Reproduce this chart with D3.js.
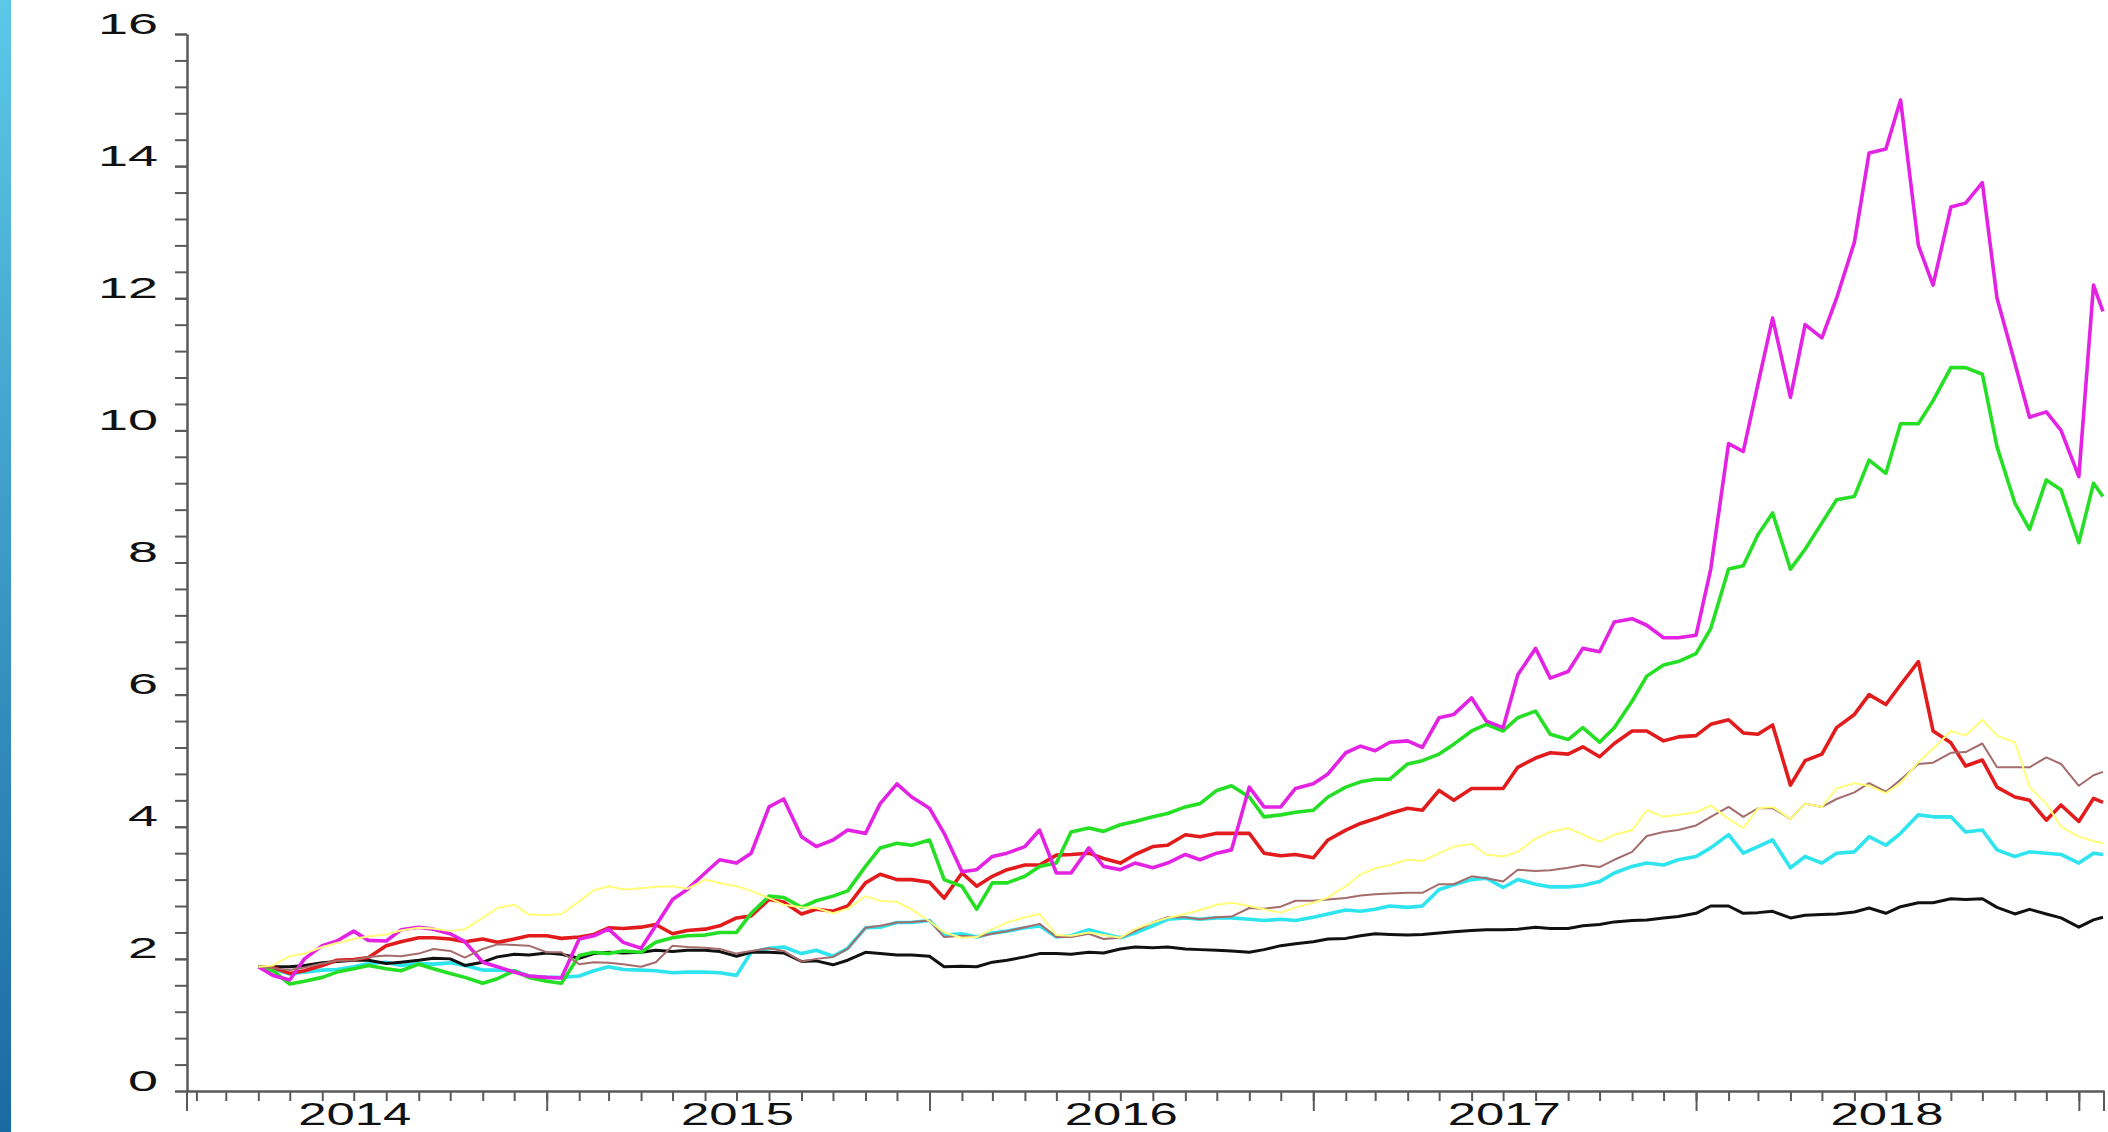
<!DOCTYPE html>
<html>
<head>
<meta charset="utf-8">
<script src="https://cdn.jsdelivr.net/npm/d3@7"></script>
<style>
  html, body { margin: 0; padding: 0; background: #ffffff; overflow: hidden; }
</style>
</head>
<body>
<script>
var w = 2108;
var h = 1132;

/*
    Dates: the 1st and 15th of each month, April 2014 to January 2019.
*/
var dates = [];
for (var yr = 2014; yr <= 2018; yr++) {
    for (var mo = (yr == 2014 ? 3 : 0); mo < 12; mo++) {
        dates.push(new Date(yr, mo, 1));
        dates.push(new Date(yr, mo, 15));
    }
}
dates.push(new Date(2019, 0, 1), new Date(2019, 0, 15), new Date(2019, 0, 24));

var yearLabels = [2014, 2015, 2016, 2017, 2018];
var yTicks = [0, 2, 4, 6, 8, 10, 12, 14, 16];

/*
    Series values (one row per year).
*/
var magenta = [
    1.88, 1.75, 1.68, 2.0, 2.2, 2.27, 2.42, 2.28, 2.27, 2.44, 2.48, 2.45, 2.38, 2.26, 1.95, 1.88, 1.8, 1.74,
    1.72, 1.71, 2.3, 2.35, 2.45, 2.25, 2.16, 2.5, 2.9, 3.05, 3.3, 3.5, 3.45, 3.6, 4.3, 4.42, 3.85, 3.7, 3.8, 3.95, 3.9, 4.35, 4.65, 4.45,
    4.28, 3.9, 3.32, 3.35, 3.55, 3.6, 3.7, 3.95, 3.3, 3.3, 3.68, 3.4, 3.35, 3.45, 3.38, 3.45, 3.58, 3.5, 3.6, 3.65, 4.6, 4.3, 4.3, 4.58,
    4.65, 4.8, 5.12, 5.22, 5.15, 5.28, 5.3, 5.2, 5.65, 5.7, 5.95, 5.6, 5.5, 6.3, 6.7, 6.25, 6.35, 6.7, 6.65, 7.1, 7.15, 7.05, 6.86, 6.86,
    6.9, 7.9, 9.8, 9.68, 10.7, 11.7, 10.5, 11.6, 11.4, 12.0, 12.85, 14.2, 14.26, 15.0, 12.8, 12.2, 13.38, 13.44, 13.75, 12.0, 11.02, 10.2, 10.28, 10.0,
    9.3, 12.2, 11.8
];
var green = [
    1.88, 1.82, 1.62, 1.66, 1.72, 1.8, 1.85, 1.9, 1.85, 1.82, 1.92, 1.85, 1.78, 1.72, 1.63, 1.7, 1.82, 1.72,
    1.66, 1.63, 2.05, 2.1, 2.08, 2.12, 2.1, 2.25, 2.32, 2.35, 2.36, 2.4, 2.4, 2.69, 2.95, 2.93, 2.78, 2.88, 2.95, 3.03, 3.4, 3.68, 3.75, 3.72,
    3.8, 3.2, 3.1, 2.75, 3.15, 3.15, 3.25, 3.4, 3.45, 3.92, 3.98, 3.93, 4.03, 4.08, 4.15, 4.2, 4.3, 4.35, 4.55, 4.62, 4.45, 4.15, 4.18, 4.22,
    4.25, 4.45, 4.6, 4.68, 4.72, 4.72, 4.95, 5.0, 5.1, 5.25, 5.45, 5.55, 5.45, 5.65, 5.75, 5.4, 5.32, 5.5, 5.28, 5.5, 5.9, 6.28, 6.45, 6.5,
    6.62, 7.0, 7.9, 7.95, 8.42, 8.75, 7.9, 8.2, 8.6, 8.95, 9.0, 9.55, 9.35, 10.1, 10.1, 10.45, 10.95, 10.95, 10.85, 9.75, 8.9, 8.5, 9.25, 9.1,
    8.3, 9.2, 9.0
];
var red = [
    1.88, 1.87, 1.78, 1.82, 1.9, 1.98, 1.99, 2.02, 2.2, 2.26, 2.32, 2.32, 2.3, 2.26, 2.3, 2.25, 2.3, 2.35,
    2.35, 2.31, 2.33, 2.37, 2.47, 2.46, 2.48, 2.52, 2.38, 2.43, 2.45, 2.5, 2.62, 2.65, 2.9, 2.86, 2.68, 2.75, 2.72, 2.8, 3.15, 3.28, 3.2, 3.2,
    3.16, 2.92, 3.3, 3.1, 3.25, 3.35, 3.42, 3.42, 3.57, 3.58, 3.6, 3.52, 3.45, 3.58, 3.7, 3.72, 3.88, 3.85, 3.9, 3.9, 3.9, 3.6, 3.56, 3.58,
    3.53, 3.8, 3.95, 4.05, 4.12, 4.2, 4.28, 4.25, 4.55, 4.4, 4.58, 4.58, 4.58, 4.9, 5.04, 5.12, 5.1, 5.21, 5.06, 5.26, 5.45, 5.45, 5.3, 5.36,
    5.38, 5.55, 5.62, 5.42, 5.4, 5.54, 4.63, 5.0, 5.1, 5.5, 5.7, 6.0, 5.85, 6.15, 6.5, 5.45, 5.27, 4.92, 5.01, 4.6, 4.45, 4.4, 4.1, 4.33,
    4.08, 4.43, 4.37
];
var yellow = [
    1.88, 1.9, 2.04, 2.08, 2.18, 2.24, 2.3, 2.34, 2.37, 2.43, 2.47, 2.46, 2.42, 2.45, 2.62, 2.77, 2.82, 2.67,
    2.66, 2.68, 2.87, 3.04, 3.1, 3.05, 3.07, 3.09, 3.1, 3.06, 3.2, 3.15, 3.1, 3.03, 2.92, 2.82, 2.78, 2.77, 2.69, 2.76, 2.95, 2.88, 2.86, 2.75,
    2.57, 2.4, 2.32, 2.33, 2.45, 2.55, 2.63, 2.68, 2.36, 2.35, 2.4, 2.36, 2.32, 2.45, 2.55, 2.62, 2.68, 2.74, 2.82, 2.85, 2.8, 2.75, 2.7, 2.78,
    2.85, 2.93, 3.1, 3.28, 3.37, 3.42, 3.5, 3.48, 3.6, 3.7, 3.74, 3.58, 3.55, 3.62, 3.82, 3.92, 3.98, 3.88, 3.77, 3.88, 3.95, 4.25, 4.15, 4.18,
    4.22, 4.32, 4.12, 3.98, 4.28, 4.3, 4.12, 4.35, 4.3, 4.58, 4.66, 4.62, 4.51, 4.66, 4.98, 5.18, 5.45, 5.38, 5.62, 5.38, 5.28, 4.6, 4.35, 4.0,
    3.85, 3.78, 3.75
];
var brown = [
    1.88, 1.86, 1.83, 1.87, 1.93, 1.97, 1.98, 2.03, 2.05, 2.04, 2.08, 2.15, 2.12, 2.02, 2.15, 2.22, 2.21, 2.2,
    2.1, 2.1, 1.92, 1.95, 1.94, 1.92, 1.88, 1.95, 2.2, 2.18, 2.17, 2.15, 2.08, 2.12, 2.16, 2.12, 1.96, 2.0, 2.03, 2.15, 2.47, 2.5, 2.55, 2.56,
    2.58, 2.33, 2.35, 2.33, 2.38, 2.42, 2.48, 2.53, 2.33, 2.33, 2.38, 2.3, 2.32, 2.42, 2.55, 2.63, 2.63, 2.6, 2.63, 2.64, 2.77, 2.76, 2.79, 2.88,
    2.88, 2.9, 2.92, 2.96, 2.98, 2.99, 3.0, 3.0, 3.13, 3.13, 3.25, 3.22, 3.17, 3.35, 3.33, 3.34, 3.38, 3.42, 3.39, 3.5, 3.62, 3.86, 3.92, 3.95,
    4.02, 4.15, 4.3, 4.15, 4.28, 4.28, 4.12, 4.35, 4.3, 4.42, 4.52, 4.66, 4.53, 4.71, 4.95, 4.97, 5.12, 5.13, 5.26, 4.9, 4.9, 4.9, 5.05, 4.95,
    4.62, 4.78, 4.83
];
var cyan = [
    1.88, 1.85, 1.77, 1.8, 1.83, 1.84, 1.88, 1.93, 1.95, 1.9, 1.93, 1.92, 1.94, 1.9, 1.83, 1.83, 1.82, 1.74,
    1.72, 1.72, 1.74, 1.82, 1.88, 1.84, 1.83, 1.82, 1.79, 1.8, 1.8, 1.79, 1.75, 2.1, 2.16, 2.18, 2.08, 2.13, 2.04, 2.16, 2.47, 2.48, 2.55, 2.55,
    2.58, 2.36, 2.38, 2.33, 2.39, 2.42, 2.47, 2.5, 2.33, 2.35, 2.44, 2.38, 2.32, 2.39, 2.5, 2.6, 2.62, 2.6, 2.62, 2.62, 2.6, 2.58, 2.6, 2.58,
    2.63, 2.68, 2.74, 2.72, 2.75, 2.8, 2.78, 2.8, 3.05, 3.12, 3.2, 3.22, 3.08, 3.2, 3.13, 3.09, 3.09, 3.11, 3.17, 3.3, 3.4, 3.45, 3.42, 3.5,
    3.55, 3.68, 3.88, 3.6, 3.7, 3.8, 3.38, 3.55, 3.45, 3.6, 3.62, 3.85, 3.72, 3.9, 4.18, 4.15, 4.15, 3.92, 3.95, 3.65, 3.55, 3.62, 3.6, 3.58,
    3.45, 3.6, 3.58
];
var black = [
    1.88, 1.88, 1.88, 1.9, 1.94, 1.96, 1.98, 1.98, 1.93, 1.95, 1.98, 2.01, 2.0, 1.9, 1.95, 2.03, 2.07, 2.06,
    2.09, 2.07, 2.01, 2.08, 2.1, 2.09, 2.1, 2.13, 2.11, 2.13, 2.13, 2.11, 2.04, 2.1, 2.1, 2.09, 1.96, 1.97, 1.91, 1.98, 2.1, 2.08, 2.06, 2.06,
    2.04, 1.88, 1.89, 1.88, 1.95, 1.98, 2.03, 2.08, 2.08, 2.07, 2.1, 2.09, 2.15, 2.18, 2.17, 2.18, 2.15, 2.14, 2.13, 2.12, 2.1, 2.14, 2.2, 2.23,
    2.26, 2.3, 2.31, 2.35, 2.38, 2.37, 2.36, 2.37, 2.39, 2.41, 2.43, 2.44, 2.44, 2.45, 2.48, 2.46, 2.46, 2.5, 2.52, 2.56, 2.58, 2.59, 2.62, 2.64,
    2.69, 2.8, 2.8, 2.69, 2.7, 2.72, 2.62, 2.66, 2.67, 2.68, 2.71, 2.77, 2.69, 2.79, 2.85, 2.85, 2.91, 2.9, 2.91, 2.78, 2.68, 2.75, 2.68, 2.62,
    2.48, 2.59, 2.63
];

/*
    Scales: the time axis runs a little past the data on both sides.
*/
var xScale = d3.scaleTime()
    .domain([new Date(2014, 0, 23), new Date(2019, 0, 25)])
    .range([187, 2104]);

var yScale = d3.scaleLinear()
    .domain([0, 16])
    .range([1091, 34]);

var svg = d3.select("body")
    .append("svg")
    .attr("width", w)
    .attr("height", h)
    .style("display", "block");

/* blue strip on the left edge */
var grad = svg.append("defs").append("linearGradient")
    .attr("id", "strip")
    .attr("x1", 0).attr("y1", 0).attr("x2", 0).attr("y2", 1);
grad.append("stop").attr("offset", "0%").attr("stop-color", "#5cc8e8");
grad.append("stop").attr("offset", "100%").attr("stop-color", "#1a6aa2");
svg.append("rect")
    .attr("x", 0).attr("y", 0)
    .attr("width", 11).attr("height", h)
    .attr("fill", "url(#strip)");

var axisColor = "#5a5a5a";

/* y axis: minor ticks every 0.4, labelled ticks every 2 */
var yMinor = d3.axisLeft(yScale)
    .tickValues(d3.range(0, 41).map(function(i){ return i * 0.4; }))
    .tickSize(12)
    .tickSizeOuter(0)
    .tickFormat("");

var yMajor = d3.axisLeft(yScale)
    .tickValues(yTicks)
    .tickSize(12)
    .tickSizeOuter(0)
    .tickPadding(17);

svg.append("g")
    .attr("transform", "translate(187,0)")
    .call(yMinor);
var gy2 = svg.append("g")
    .attr("transform", "translate(187,0)")
    .call(yMajor);

gy2.selectAll("text")
    .attr("dy", null)
    .attr("y", -1)
    .style("font-family", "'Liberation Sans', Arial, sans-serif")
    .style("font-size", "30px")
    .attr("fill", "#111")
    .attr("textLength", function(d){ return String(d).length * 30; })
    .attr("lengthAdjust", "spacingAndGlyphs");

/* x axis: monthly ticks, longer ticks at year boundaries */
var xMinor = d3.axisBottom(xScale)
    .ticks(d3.timeMonth.every(1))
    .tickSize(10)
    .tickSizeOuter(0)
    .tickFormat("");

var xMajor = d3.axisBottom(xScale)
    .ticks(d3.timeYear.every(1))
    .tickSize(20)
    .tickSizeOuter(0)
    .tickFormat("");

svg.append("g")
    .attr("transform", "translate(0,1091)")
    .call(xMinor);
svg.append("g")
    .attr("transform", "translate(0,1091)")
    .call(xMajor);

/* long ticks at both ends of the time axis */
svg.append("line")
    .attr("x1", 187).attr("x2", 187)
    .attr("y1", 1091).attr("y2", 1111);
svg.append("line")
    .attr("x1", 2104).attr("x2", 2104)
    .attr("y1", 1091).attr("y2", 1111);

svg.selectAll("line")
    .attr("stroke", axisColor)
    .attr("stroke-width", 2);
svg.selectAll("path.domain")
    .attr("stroke", axisColor)
    .attr("stroke-width", 2);

/* year labels centred in each year */
svg.selectAll("text.year")
    .data(yearLabels)
    .enter()
    .append("text")
    .attr("class", "year")
    .attr("x", function(d){ return xScale(new Date(d, 6, 2)); })
    .attr("y", 1125)
    .attr("text-anchor", "middle")
    .style("font-family", "'Liberation Sans', Arial, sans-serif")
    .style("font-size", "31px")
    .attr("fill", "#111")
    .attr("textLength", 113)
    .attr("lengthAdjust", "spacingAndGlyphs")
    .text(function(d){ return d; });

/* the lines */
var series = [
    { values: cyan,    color: "#2de4ef", width: 3.6 },
    { values: black,   color: "#111111", width: 3 },
    { values: red,     color: "#e21c1c", width: 3.6 },
    { values: green,   color: "#25df25", width: 3.6 },
    { values: magenta, color: "#e322e3", width: 3.6 },
    { values: brown,   color: "#a46c6c", width: 2 },
    { values: yellow,  color: "#ffff7a", width: 2 }
];

var line = d3.line()
    .x(function(d, i){ return xScale(dates[i]); })
    .y(function(d){ return yScale(d); });

svg.selectAll("path.series")
    .data(series)
    .enter()
    .append("path")
    .attr("class", "series")
    .attr("d", function(s){ return line(s.values); })
    .attr("fill", "none")
    .attr("stroke", function(s){ return s.color; })
    .attr("stroke-width", function(s){ return s.width; })
    .attr("stroke-linejoin", "round");
</script>
</body>
</html>
